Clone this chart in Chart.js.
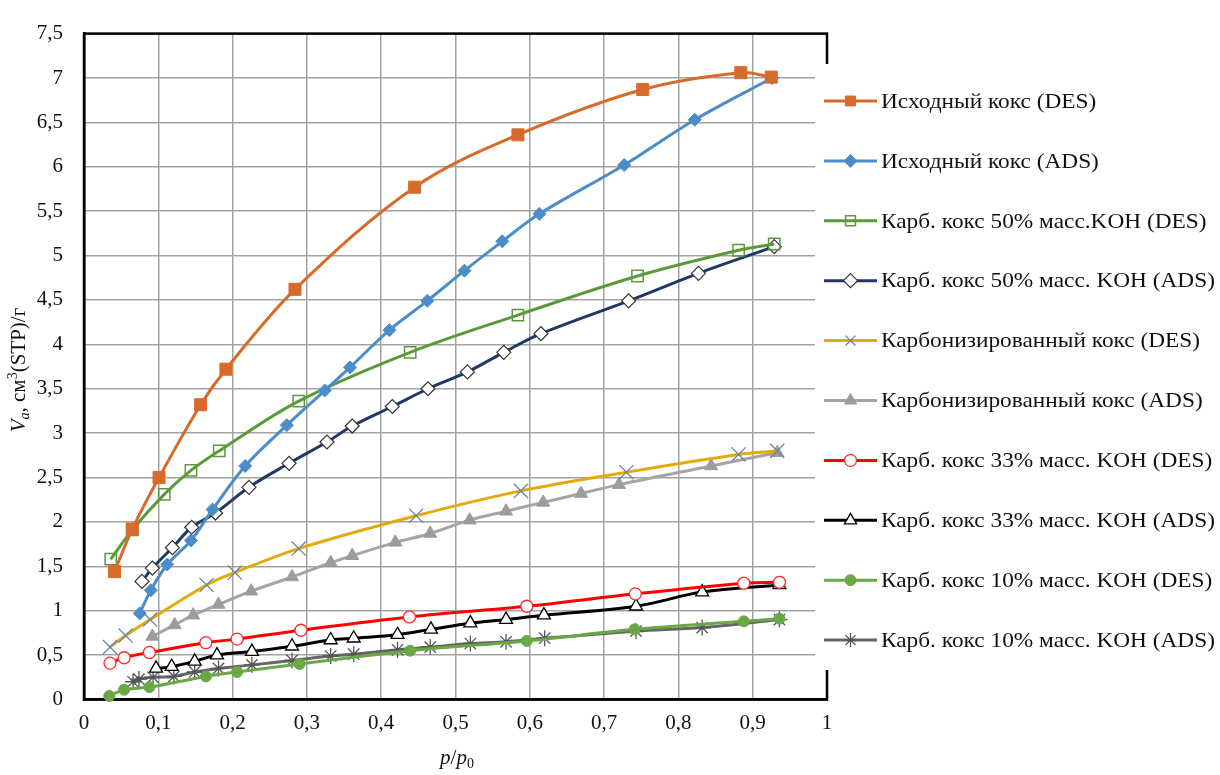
<!DOCTYPE html>
<html lang="ru">
<head>
<meta charset="utf-8">
<title>Изотермы сорбции</title>
<script src="https://cdn.jsdelivr.net/npm/chart.js@4.4.1/dist/chart.umd.min.js"></script>
<style>
    html, body { margin: 0; padding: 0; background: #fff; }
    #wrap { width: 1220px; height: 775px; }
</style>
</head>
<body>
<div id="wrap"><canvas id="isoChart" width="1220" height="775"></canvas></div>
<script>
// данные: [p/p0, Va]
const ishodnyDes = [[0.041,1.44],[0.065,1.92],[0.101,2.50],[0.157,3.32],[0.191,3.72],[0.284,4.62],[0.445,5.77],[0.584,6.36],[0.752,6.87],[0.884,7.06],[0.925,7.01]];
const ishodnyAds = [[0.075,0.97],[0.090,1.23],[0.112,1.52],[0.144,1.79],[0.173,2.14],[0.217,2.63],[0.273,3.09],[0.324,3.48],[0.358,3.74],[0.411,4.16],[0.462,4.49],[0.512,4.83],[0.563,5.16],[0.613,5.47],[0.727,6.02],[0.822,6.53],[0.926,7.00]];
const koh50Des = [[0.036,1.58],[0.065,1.91],[0.108,2.31],[0.144,2.58],[0.182,2.80],[0.289,3.36],[0.439,3.91],[0.584,4.33],[0.745,4.77],[0.881,5.06],[0.929,5.13]];
const koh50Ads = [[0.078,1.33],[0.092,1.48],[0.119,1.71],[0.145,1.94],[0.177,2.10],[0.222,2.39],[0.276,2.66],[0.327,2.90],[0.361,3.08],[0.415,3.30],[0.463,3.50],[0.516,3.69],[0.565,3.91],[0.615,4.12],[0.733,4.49],[0.827,4.80],[0.929,5.10]];
const karbDes = [[0.035,0.59],[0.056,0.72],[0.089,0.90],[0.165,1.29],[0.203,1.43],[0.289,1.70],[0.447,2.07],[0.588,2.35],[0.730,2.56],[0.881,2.76],[0.933,2.80]];
const karbAds = [[0.092,0.71],[0.122,0.84],[0.147,0.95],[0.181,1.07],[0.225,1.22],[0.280,1.38],[0.332,1.54],[0.361,1.62],[0.419,1.77],[0.466,1.87],[0.519,2.02],[0.568,2.12],[0.618,2.22],[0.669,2.32],[0.720,2.42],[0.844,2.63],[0.933,2.78]];
const koh33Des = [[0.035,0.41],[0.054,0.47],[0.088,0.53],[0.164,0.64],[0.206,0.68],[0.292,0.78],[0.438,0.93],[0.596,1.05],[0.742,1.19],[0.888,1.31],[0.936,1.32]];
const koh33Ads = [[0.097,0.35],[0.118,0.37],[0.149,0.43],[0.179,0.50],[0.226,0.54],[0.280,0.60],[0.332,0.67],[0.363,0.69],[0.422,0.73],[0.467,0.79],[0.520,0.86],[0.568,0.90],[0.619,0.95],[0.743,1.05],[0.832,1.21],[0.936,1.29]];
const koh10Des = [[0.034,0.04],[0.054,0.11],[0.088,0.14],[0.164,0.26],[0.206,0.31],[0.290,0.40],[0.439,0.55],[0.596,0.66],[0.741,0.79],[0.888,0.88],[0.936,0.91]];
const koh10Ads = [[0.066,0.20],[0.074,0.23],[0.093,0.25],[0.121,0.26],[0.149,0.31],[0.181,0.35],[0.226,0.39],[0.280,0.44],[0.332,0.49],[0.363,0.51],[0.422,0.56],[0.466,0.59],[0.520,0.63],[0.568,0.65],[0.620,0.69],[0.743,0.77],[0.832,0.81],[0.936,0.90]];

const seriesNames = [
    'Исходный кокс (DES)',
    'Исходный кокс (ADS)',
    'Карб. кокс 50% масс.KOH (DES)',
    'Карб. кокс 50% масс. KOH (ADS)',
    'Карбонизированный кокс (DES)',
    'Карбонизированный кокс (ADS)',
    'Карб. кокс 33% масс. KOH (DES)',
    'Карб. кокс 33% масс. KOH (ADS)',
    'Карб. кокс 10% масс. KOH (DES)',
    'Карб. кокс 10% масс. KOH (ADS)'
];

const xTicks = [0, 0.1, 0.2, 0.3, 0.4, 0.5, 0.6, 0.7, 0.8, 0.9, 1];
const yTicks = [0, 0.5, 1, 1.5, 2, 2.5, 3, 3.5, 4, 4.5, 5, 5.5, 6, 6.5, 7, 7.5];

const FONT = "'Liberation Serif', 'Times New Roman', serif";

// стиль серии: цвет линии, маркер, заливка и обводка маркера
function serie(name, pts, line, style, radius, fill, stroke, bw) {
    return {
        label: name,
        data: pts.map(p => ({ x: p[0], y: p[1] })),
        borderColor: line,
        borderWidth: 3,
        tension: 0.35,
        pointStyle: style,
        pointRadius: radius,
        pointHoverRadius: radius,
        pointBackgroundColor: fill,
        pointBorderColor: stroke,
        pointBorderWidth: bw,
        clip: false
    };
}

const datasets = [
    serie(seriesNames[0], ishodnyDes, '#d66b2b', 'rect', 8.5, '#d66b2b', '#d66b2b', 1),
    serie(seriesNames[1], ishodnyAds, '#4b8dc9', 'rectRot', 6.5, '#4b8dc9', '#4b8dc9', 1),
    serie(seriesNames[2], koh50Des, '#5b9a3b', 'rect', 8, 'rgba(255,255,255,0)', '#5b9a3b', 1.5),
    serie(seriesNames[3], koh50Ads, '#203864', 'rectRot', 7, '#ffffff', '#333333', 1.2),
    serie(seriesNames[4], karbDes, '#e4aa0c', 'crossRot', 10, '#6a84a8', '#6a84a8', 1.3),
    serie(seriesNames[5], karbAds, '#a5a5a5', 'triangle', 7.5, '#9c9c9c', '#9c9c9c', 1),
    serie(seriesNames[6], koh33Des, '#ff0000', 'circle', 6, '#ffffff', '#ff2a2a', 1.3),
    serie(seriesNames[7], koh33Ads, '#000000', 'triangle', 7.5, '#ffffff', '#000000', 1.3),
    serie(seriesNames[8], koh10Des, '#6aa845', 'circle', 5.5, '#6aa845', '#6aa845', 1),
    serie(seriesNames[9], koh10Ads, '#666666', 'star', 8, '#555555', '#555555', 1.3)
];

function fmt(v) {
    return String(Math.round(v * 10) / 10).replace('.', ',');
}

// рамка области построения (поверх сетки, под линиями)
const ramka = {
    id: 'ramka',
    beforeDatasetsDraw(chart) {
        const { ctx, chartArea: a } = chart;
        ctx.save();
        ctx.strokeStyle = '#000';
        ctx.lineWidth = 2.5;
        ctx.strokeRect(a.left, a.top, a.right - a.left, a.bottom - a.top);
        ctx.restore();
    }
};

// легенда справа: белая подложка перекрывает правый край сетки, как в Excel
const legenda = {
    id: 'legenda',
    afterDraw(chart) {
        const ctx = chart.ctx;
        const boxLeft = 815, boxTop = 64;
        const firstY = 101, step = 59.9;
        const lineX0 = 824, lineX1 = 877, textX = 881;
        ctx.save();
        ctx.fillStyle = '#fff';
        ctx.fillRect(boxLeft, boxTop, chart.width - boxLeft, 606);
        chart.data.datasets.forEach((ds, i) => {
            const y = firstY + i * step;
            ctx.strokeStyle = ds.borderColor;
            ctx.lineWidth = 3;
            ctx.beginPath();
            ctx.moveTo(lineX0, y);
            ctx.lineTo(lineX1, y);
            ctx.stroke();
            ctx.fillStyle = ds.pointBackgroundColor;
            ctx.strokeStyle = ds.pointBorderColor;
            ctx.lineWidth = ds.pointBorderWidth;
            Chart.helpers.drawPoint(ctx, {
                pointStyle: ds.pointStyle,
                radius: Math.min(ds.pointRadius, 7),
                rotation: 0,
                borderWidth: ds.pointBorderWidth
            }, (lineX0 + lineX1) / 2, y);
            // текст легенды в оригинале чуть растянут по ширине
            ctx.save();
            ctx.translate(textX, y + 1);
            ctx.scale(1.06, 1);
            ctx.fillStyle = '#111';
            ctx.font = '22px ' + FONT;
            ctx.textBaseline = 'middle';
            ctx.textAlign = 'left';
            ctx.fillText(ds.label, 0, 0);
            ctx.restore();
        });
        ctx.restore();
    }
};

// подписи осей с курсивом, индексами и степенью
function drawParts(ctx, parts, x, y) {
    let total = 0;
    parts.forEach(p => {
        ctx.font = p.f;
        total += ctx.measureText(p.t).width;
    });
    let cx = x - total / 2;
    parts.forEach(p => {
        ctx.font = p.f;
        ctx.fillText(p.t, cx, y + (p.dy || 0));
        cx += ctx.measureText(p.t).width;
    });
}

const podpisi = {
    id: 'podpisi',
    afterDraw(chart) {
        const ctx = chart.ctx;
        const reg = '21px ' + FONT, ital = 'italic 21px ' + FONT;
        const small = '14px ' + FONT, smallIt = 'italic 14px ' + FONT;
        ctx.save();
        ctx.fillStyle = '#111';
        ctx.textBaseline = 'alphabetic';
        ctx.textAlign = 'left';
        drawParts(ctx, [
            { t: 'p', f: ital },
            { t: '/', f: reg },
            { t: 'p', f: ital },
            { t: '0', f: small, dy: 4 }
        ], 457, 764);
        ctx.translate(25, 370);
        ctx.rotate(-Math.PI / 2);
        drawParts(ctx, [
            { t: 'V', f: ital },
            { t: 'a', f: smallIt, dy: 4 },
            { t: ', см', f: reg },
            { t: '3', f: small, dy: -8 },
            { t: '(STP)/г', f: reg }
        ], 0, 0);
        ctx.restore();
    }
};

new Chart(document.getElementById('isoChart'), {
    type: 'line',
    data: { datasets: datasets },
    plugins: [ramka, legenda, podpisi],
    options: {
        responsive: false,
        animation: false,
        events: [],
        layout: { padding: { top: 22, right: 393, left: 0, bottom: 0 } },
        plugins: { legend: { display: false }, tooltip: { enabled: false } },
        scales: {
            x: {
                type: 'linear',
                min: 0, max: 1,
                afterFit: s => { s.height = 75.5; },
                afterBuildTicks: s => { s.ticks = xTicks.map(v => ({ value: v })); },
                grid: { color: '#a3a3a3', lineWidth: 1.5, drawTicks: false },
                border: { color: '#000', width: 2.5 },
                ticks: {
                    padding: 11,
                    color: '#111',
                    maxRotation: 0,
                    font: { family: FONT, size: 21 },
                    callback: v => fmt(v)
                }
            },
            y: {
                min: 0, max: 7.5,
                afterFit: s => { s.width = 84; },
                afterBuildTicks: s => { s.ticks = yTicks.map(v => ({ value: v })); },
                grid: { color: '#a3a3a3', lineWidth: 1.5, drawTicks: false },
                border: { color: '#000', width: 2.5 },
                ticks: {
                    padding: 21,
                    color: '#111',
                    font: { family: FONT, size: 21 },
                    callback: v => fmt(v)
                }
            }
        }
    }
});
</script>
</body>
</html>
